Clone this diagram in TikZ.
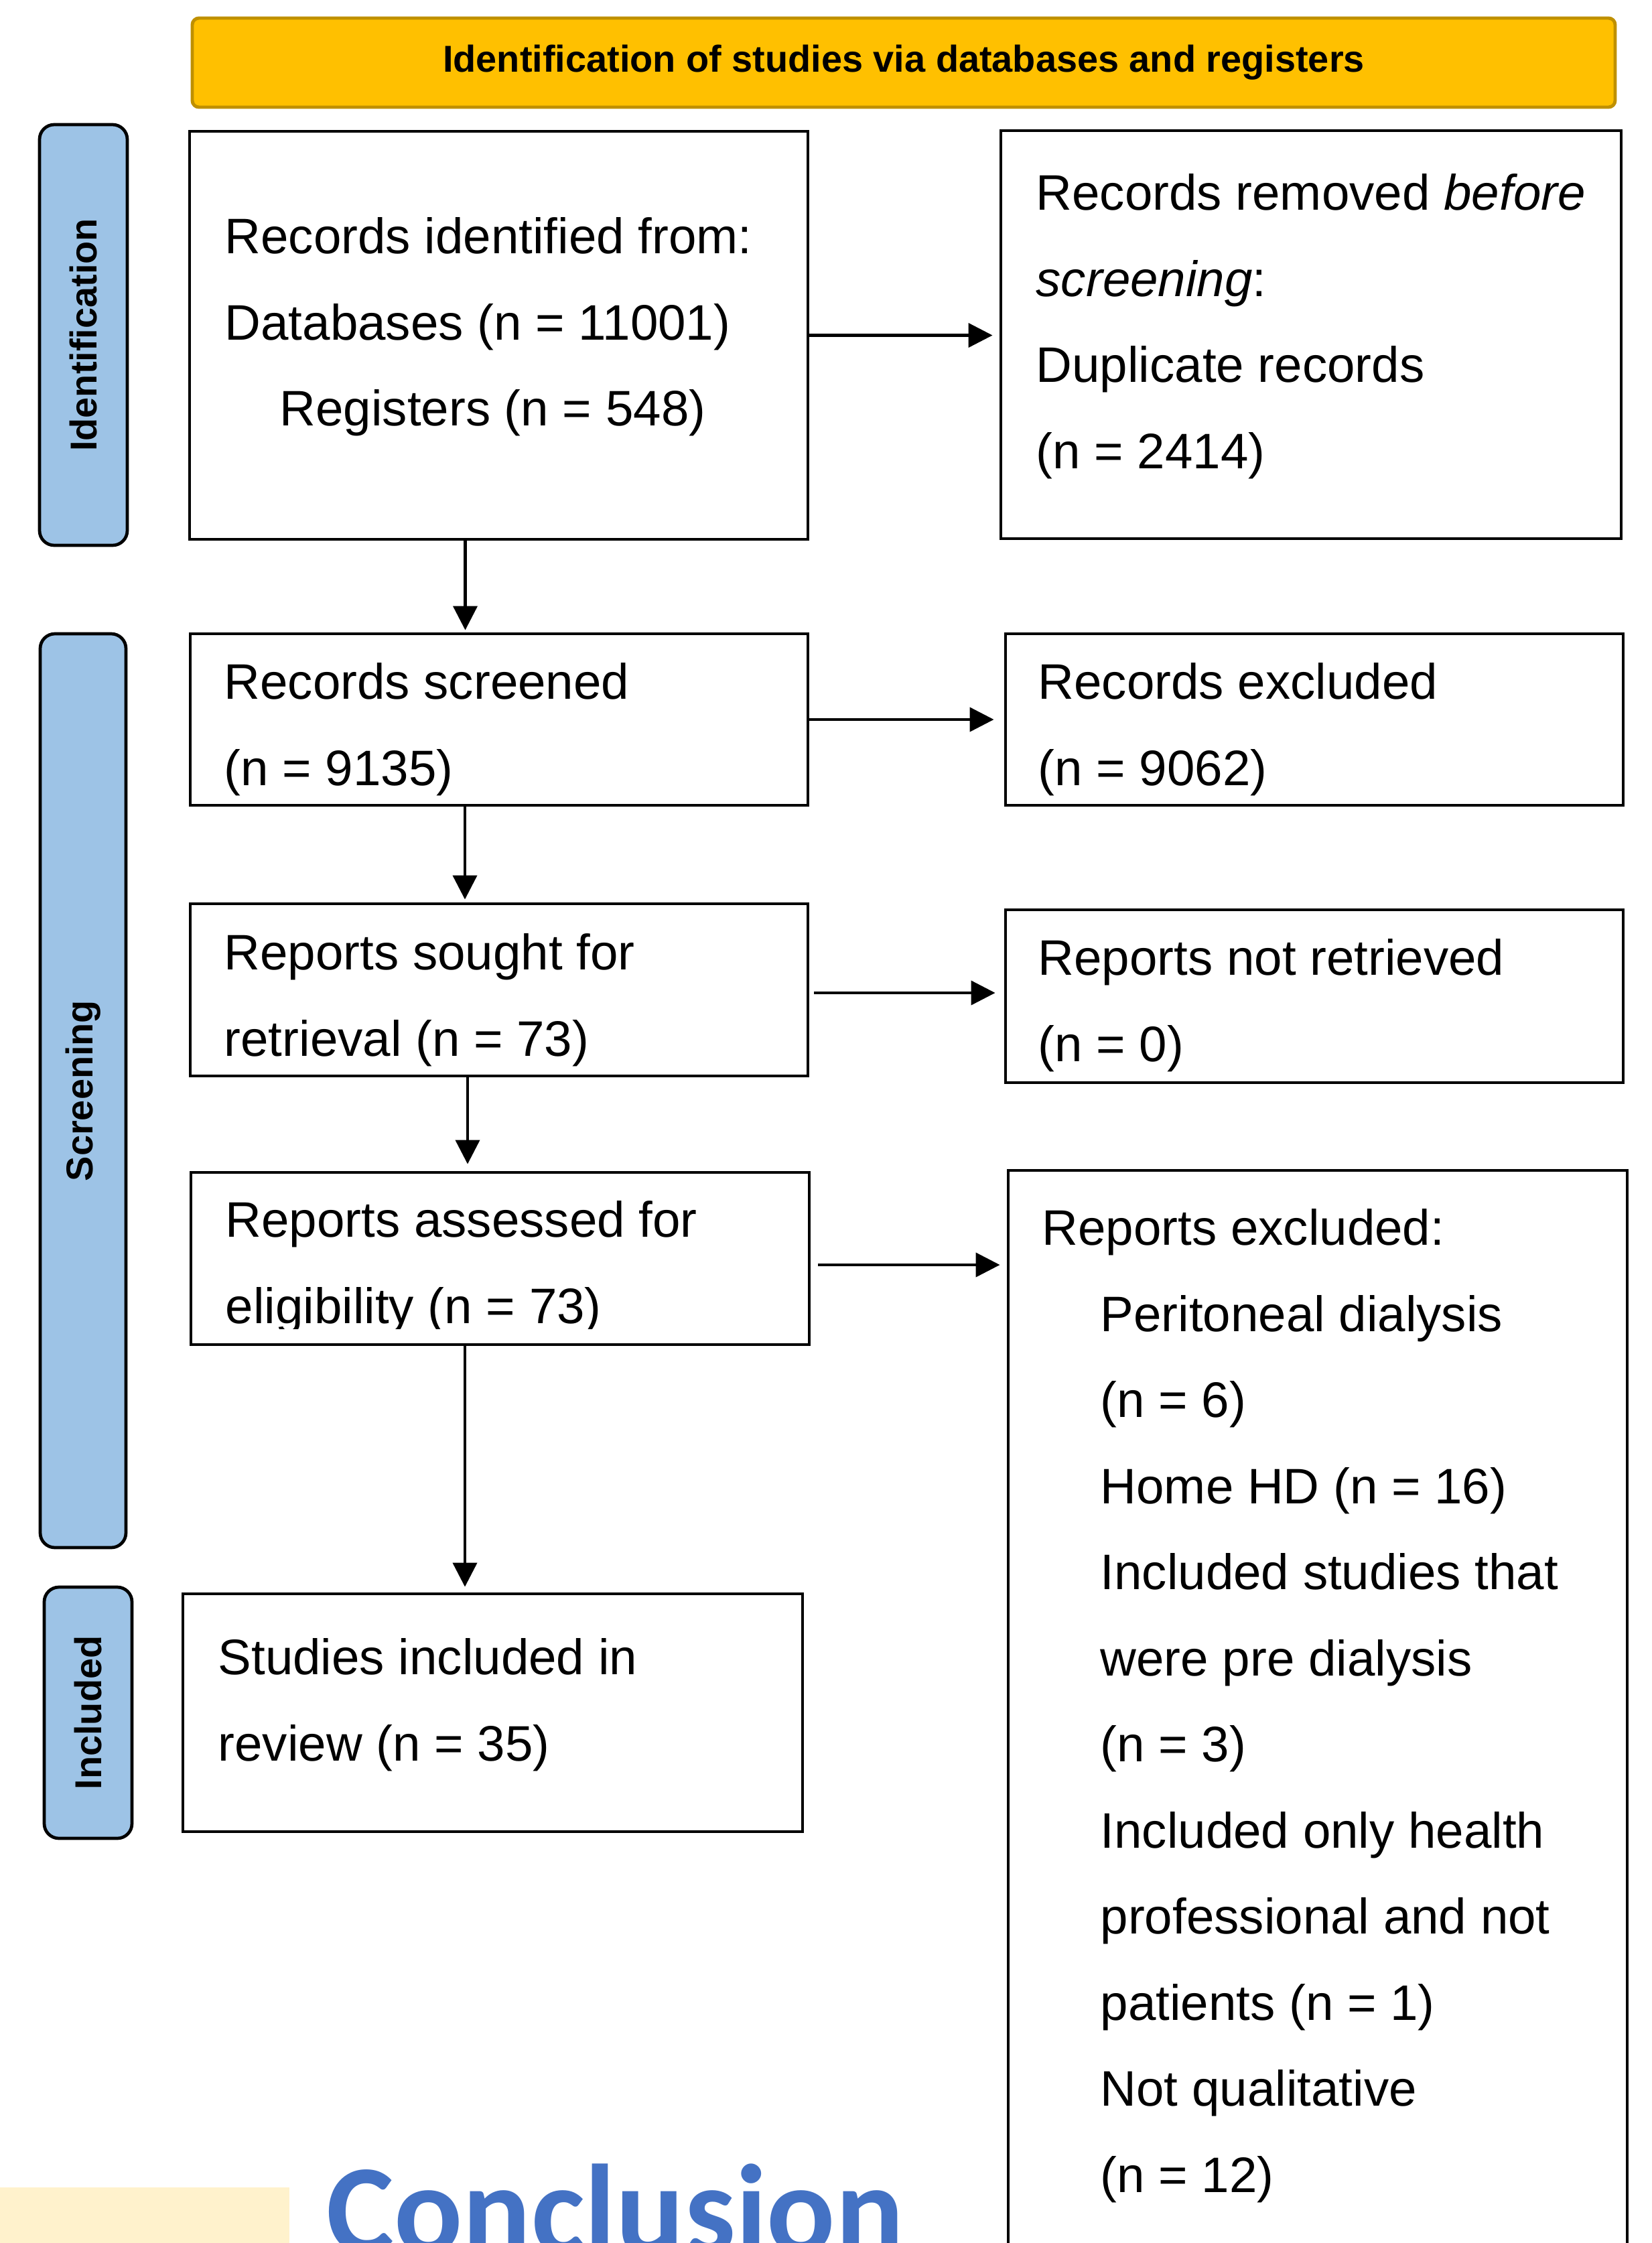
\documentclass[tikz,border=0pt]{standalone}
\usepackage{fontspec}
\setmainfont{Liberation Sans}
\newfontfamily\conclfont{Carlito}
\usetikzlibrary{arrows.meta,calc}
\definecolor{bannerfill}{HTML}{FFC000}
\definecolor{bannerline}{HTML}{BF9000}
\definecolor{phasefill}{HTML}{9DC3E6}
\definecolor{conclblue}{HTML}{4472C4}
\definecolor{paleyellow}{HTML}{FFF2CC}
\newcommand{\topstrut}{\rule{0pt}{0.6cm}}
\newcommand{\ind}{\hspace*{0.87cm}}

\begin{document}
\begin{tikzpicture}[
  box/.style={draw=black, line width=1.4pt, rectangle, inner sep=0pt},
  phase/.style={draw=black, line width=1.35pt, fill=phasefill, rounded corners=0.22cm, inner sep=0pt, rotate=90, font=\fontsize{15.9pt}{19pt}\selectfont\bfseries},
  banner/.style={draw=bannerline, line width=1.4pt, fill=bannerfill, rounded corners=0.1cm, inner sep=0pt, font=\fontsize{15.9pt}{19pt}\selectfont\bfseries},
  txt/.style={anchor=north west, inner sep=0pt, align=left, font=\fontsize{21.2pt}{1.285cm}\selectfont},
  arr/.style={line width=1.2pt, -{Triangle[length=3.6mm, width=3.6mm]}}
]

% page
\useasboundingbox (0, 0) rectangle (24.66, -33.48);
\clip (0, 0) rectangle (24.66, -33.48);

% title
\node[banner, minimum width=21.24cm, minimum height=1.33cm] (banner) at (13.49, -0.935) {Identification of studies via databases and registers};

% phases
\node[phase, minimum width=6.28cm, minimum height=1.31cm] (idphase) at (1.245, -5.00) {Identification};
\node[phase, minimum width=13.64cm, minimum height=1.28cm] (scphase) at (1.24, -16.28) {Screening};
\node[phase, minimum width=3.75cm, minimum height=1.31cm] (inphase) at (1.315, -25.565) {Included};

% identification
\node[box, minimum width=9.23cm, minimum height=6.09cm] (ident) at (7.445, -5.005) {};
\node[txt] (ident-txt) at (3.35, -3.18) {\topstrut Records identified from:\\Databases (n = 11001)\\\hspace*{0.82cm}Registers (n = 548)};
\node[box, minimum width=9.26cm, minimum height=6.09cm] (removed) at (19.57, -4.995) {};
\node[txt] (removed-txt) at (15.46, -2.53) {\topstrut Records removed \textit{before}\\\textit{screening}:\\Duplicate records\\(n = 2414)};

% screening
\node[box, minimum width=9.22cm, minimum height=2.56cm] (screened) at (7.45, -10.74) {};
\node[txt] (screened-txt) at (3.34, -9.83) {\topstrut Records screened\\(n = 9135)};
\node[box, minimum width=9.22cm, minimum height=2.56cm] (excluded) at (19.62, -10.74) {};
\node[txt] (excluded-txt) at (15.49, -9.83) {\topstrut Records excluded\\(n = 9062)};

\node[box, minimum width=9.22cm, minimum height=2.57cm] (sought) at (7.45, -14.775) {};
\node[txt] (sought-txt) at (3.34, -13.87) {\topstrut Reports sought for\\retrieval (n = 73)};
\node[box, minimum width=9.22cm, minimum height=2.58cm] (notret) at (19.62, -14.87) {};
\node[txt] (notret-txt) at (15.49, -13.95) {\topstrut Reports not retrieved\\(n = 0)};

\node[box, minimum width=9.23cm, minimum height=2.57cm] (assessed) at (7.465, -18.785) {};
\begin{scope}
\clip (2.85, -17.50) rectangle (12.08, -19.83);
\node[txt] (assessed-txt) at (3.36, -17.86) {\topstrut Reports assessed for\\eligibility (n = 73)};
\end{scope}
\node[box, minimum width=9.24cm, minimum height=16.53cm] (rexcl) at (19.67, -25.735) {};
\node[txt] (rexcl-txt) at (15.55, -17.98) {\topstrut Reports excluded:\\\ind Peritoneal dialysis\\\ind (n = 6)\\\ind Home HD (n = 16)\\\ind Included studies that\\\ind were pre dialysis\\\ind (n = 3)\\\ind Included only health\\\ind professional and not\\\ind patients (n = 1)\\\ind Not qualitative\\\ind (n = 12)};

% included
\node[box, minimum width=9.25cm, minimum height=3.55cm] (studies) at (7.355, -25.565) {};
\node[txt] (studies-txt) at (3.25, -24.39) {\topstrut Studies included in\\review (n = 35)};

% arrows
\draw[arr, shorten >=0.1cm] (ident.east) -- (ident.east -| removed.west);
\draw[arr, shorten >=0.03cm] ([xshift=-0.5cm]ident.south) -- ([xshift=-0.5cm]ident.south |- screened.north);
\draw[arr, shorten >=0.15cm] (screened.east) -- (screened.east -| excluded.west);
\draw[arr, shorten >=0.04cm] ([xshift=-0.51cm]screened.south) -- ([xshift=-0.51cm]screened.south |- sought.north);
\draw[arr, shorten <=0.07cm, shorten >=0.13cm] ([yshift=-0.045cm]sought.east) -- ([yshift=-0.045cm]sought.east -| notret.west);
\draw[arr, shorten >=0.1cm] ([xshift=-0.47cm]sought.south) -- ([xshift=-0.47cm]sought.south |- assessed.north);
\draw[arr, shorten <=0.11cm, shorten >=0.1cm] ([yshift=-0.095cm]assessed.east) -- ([yshift=-0.095cm]assessed.east -| rexcl.west);
\draw[arr, shorten >=0.08cm] ([xshift=-0.525cm]assessed.south) -- ([xshift=-0.525cm]assessed.south |- studies.north);

% conclusion
\fill[paleyellow] (0, -32.65) rectangle (4.32, -33.6);
\node[anchor=base west, inner sep=0pt, text=conclblue, font=\conclfont\bfseries\fontsize{54.2pt}{60pt}\selectfont] (concl) at (4.87, -33.63) {Conclusion};

\end{tikzpicture}
\end{document}
